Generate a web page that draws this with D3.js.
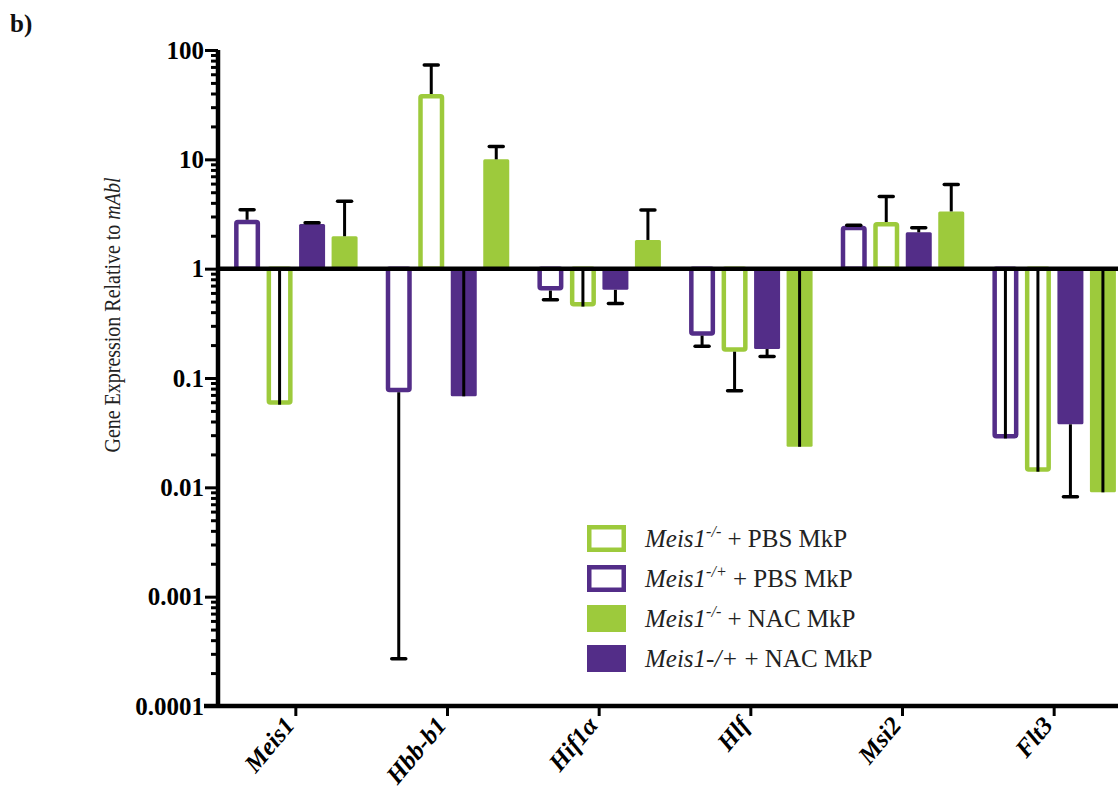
<!DOCTYPE html>
<html>
<head>
<meta charset="utf-8">
<script src="https://cdn.jsdelivr.net/npm/d3@7"></script>
<style>
  body { margin: 0; background: #fff; }
  svg text { font-family: 'Liberation Serif', 'Times New Roman', serif; }
</style>
</head>
<body>
<svg id="chart" width="1118" height="794"></svg>
<script>
var genes = ['Meis1', 'Hbb-b1', 'Hif1α', 'Hlf', 'Msi2', 'Flt3'];
var seriesKeys = ['hetPBS', 'koPBS', 'hetNAC', 'koNAC'];

// bar values (relative to mAbl) and where each error bar ends
var hetPBS = [2.8, 0.074, 0.63, 0.244, 2.47, 0.028];
var hetPBSErr = [3.45, 0.00027, 0.52, 0.195, 2.5, 1];
var koPBS = [0.057, 39.6, 0.45, 0.174, 2.67, 0.0139];
var koPBSErr = [1, 73, 1, 0.0765, 4.58, 1];
var hetNAC = [2.56, 0.068, 0.64, 0.184, 2.15, 0.0377];
var hetNACErr = [2.63, 1, 0.48, 0.157, 2.37, 0.0082];
var koNAC = [1.98, 10, 1.83, 0.0235, 3.34, 0.009];
var koNACErr = [4.13, 13.1, 3.44, 1, 5.9, 1];

var yTickLabels = ['100', '10', '1', '0.1', '0.01', '0.001', '0.0001'];

var green = '#9dca3c';
var purple = '#532d88';

var series = {
  hetPBS: { vals: hetPBS, err: hetPBSErr, color: purple, open: true },
  koPBS: { vals: koPBS, err: koPBSErr, color: green, open: true },
  hetNAC: { vals: hetNAC, err: hetNACErr, color: purple, open: false },
  koNAC: { vals: koNAC, err: koNACErr, color: green, open: false }
};

var legendItems = [
  { key: 'koPBS', sup: '-/-', rest: ' + PBS MkP' },
  { key: 'hetPBS', sup: '-/+', rest: ' + PBS MkP' },
  { key: 'koNAC', sup: '-/-', rest: ' + NAC MkP' },
  { key: 'hetNAC', plain: '-/+', rest: ' + NAC MkP' }
];

var svg = d3.select('#chart');

var y = d3.scaleLog()
  .domain([0.0001, 100])
  .range([706, 50]);

var x0 = d3.scaleBand()
  .domain(genes)
  .range([220, 1130]);

var x1 = d3.scaleBand()
  .domain(seriesKeys)
  .range([-61.75, 61.75])
  .paddingInner(0.2);

var bars = [];
genes.forEach(function (g, i) {
  seriesKeys.forEach(function (k) {
    bars.push({ gene: g, key: k, v: series[k].vals[i], e: series[k].err[i] });
  });
});

function barX(d) {
  return x0(d.gene) + x0.bandwidth() / 2 + x1(d.key);
}

var sw = 4.5;
var barG = svg.append('g').attr('class', 'bars');
barG.selectAll('rect')
  .data(bars)
  .enter()
  .append('rect')
  .attr('x', function (d) { return barX(d) + (series[d.key].open ? sw / 2 : 0); })
  .attr('width', function (d) { return x1.bandwidth() - (series[d.key].open ? sw : 0); })
  .attr('y', function (d) {
    var top = Math.min(y(d.v), y(1));
    return top + (series[d.key].open && d.v > 1 ? sw / 2 : 0);
  })
  .attr('height', function (d) {
    return Math.abs(y(d.v) - y(1)) - (series[d.key].open ? sw / 2 : 0);
  })
  .attr('rx', 1.5)
  .attr('fill', function (d) { return series[d.key].open ? '#fff' : series[d.key].color; })
  .attr('stroke', function (d) { return series[d.key].open ? series[d.key].color : 'none'; })
  .attr('stroke-width', sw);

// error bars
var errG = svg.append('g').attr('class', 'errors');
var errs = errG.selectAll('g')
  .data(bars)
  .enter()
  .append('g');
errs.append('line')
  .attr('x1', function (d) { return barX(d) + x1.bandwidth() / 2; })
  .attr('x2', function (d) { return barX(d) + x1.bandwidth() / 2; })
  .attr('y1', function (d) { return y(d.v); })
  .attr('y2', function (d) { return y(d.e); })
  .attr('stroke', '#000')
  .attr('stroke-width', 3);
errs.append('line')
  .attr('x1', function (d) { return barX(d) + x1.bandwidth() / 2 - 7; })
  .attr('x2', function (d) { return barX(d) + x1.bandwidth() / 2 + 7; })
  .attr('y1', function (d) { return y(d.e); })
  .attr('y2', function (d) { return y(d.e); })
  .attr('stroke', '#000')
  .attr('stroke-width', 3.5)
  .attr('stroke-linecap', 'round');

// baseline at 1
svg.append('line')
  .attr('x1', 218)
  .attr('x2', 1118)
  .attr('y1', y(1))
  .attr('y2', y(1))
  .attr('stroke', '#000')
  .attr('stroke-width', 4.5);

// y axis with log minor ticks
var majors = y.ticks().filter(function (t) {
  return Math.abs(Math.log10(t) - Math.round(Math.log10(t))) < 1e-9;
});
var yAxis = d3.axisLeft(y)
  .tickValues(y.ticks())
  .tickSize(7)
  .tickFormat('');
var yg = svg.append('g')
  .attr('transform', 'translate(218,0)')
  .call(yAxis);
yg.select('.domain')
  .attr('stroke', '#000')
  .attr('stroke-width', 4.5)
  .attr('d', 'M0,' + y(100) + 'V' + y(0.0001));
yg.selectAll('.tick line')
  .attr('stroke', '#000')
  .attr('stroke-width', 3)
  .attr('x2', function (d) { return majors.indexOf(d) >= 0 ? -13 : -7; });

svg.append('g')
  .selectAll('text')
  .data(majors.slice().reverse())
  .enter()
  .append('text')
  .attr('x', 204)
  .attr('y', function (d) { return y(d); })
  .attr('dy', '0.34em')
  .attr('text-anchor', 'end')
  .attr('font-weight', 'bold')
  .attr('font-size', 25)
  .attr('fill', '#000')
  .text(function (d, i) { return yTickLabels[i]; });

// x axis
var xg = svg.append('g')
  .attr('transform', 'translate(0,' + y(0.0001) + ')')
  .call(d3.axisBottom(x0).tickSize(10).tickSizeOuter(0).tickFormat(''));
xg.select('.domain')
  .attr('stroke', '#000')
  .attr('stroke-width', 4.5)
  .attr('d', 'M204,0H1118');
xg.selectAll('.tick line')
  .attr('stroke', '#000')
  .attr('stroke-width', 3);

svg.append('g')
  .selectAll('text')
  .data(genes)
  .enter()
  .append('text')
  .attr('transform', function (d) {
    return 'translate(' + (x0(d) + x0.bandwidth() / 2) + ',' + 726 + ') rotate(-50)';
  })
  .attr('text-anchor', 'end')
  .attr('font-weight', 'bold')
  .attr('font-style', 'italic')
  .attr('font-size', 25)
  .attr('fill', '#000')
  .text(function (d) { return d; });

// y label
var ylab = svg.append('text')
  .attr('transform', 'translate(120,315) rotate(-90)')
  .attr('text-anchor', 'middle')
  .attr('font-size', 24)
  .attr('textLength', 275)
  .attr('lengthAdjust', 'spacingAndGlyphs')
  .attr('fill', '#222');
ylab.append('tspan').text('Gene Expression Relative to ');
ylab.append('tspan').attr('font-style', 'italic').text('mAbl');

// panel letter
svg.append('text')
  .attr('x', 10)
  .attr('y', 32)
  .attr('font-weight', 'bold')
  .attr('font-size', 25)
  .attr('fill', '#111')
  .text('b)');

// legend
var leg = svg.append('g')
  .attr('transform', 'translate(587,525)');
var li = leg.selectAll('g')
  .data(legendItems)
  .enter()
  .append('g')
  .attr('transform', function (d, i) { return 'translate(0,' + i * 40 + ')'; });
li.append('rect')
  .attr('x', function (d) { return series[d.key].open ? 2.25 : 0; })
  .attr('y', function (d) { return series[d.key].open ? 2.25 : 0; })
  .attr('width', function (d) { return series[d.key].open ? 34.5 : 39; })
  .attr('height', function (d) { return series[d.key].open ? 22.5 : 27; })
  .attr('fill', function (d) { return series[d.key].open ? '#fff' : series[d.key].color; })
  .attr('stroke', function (d) { return series[d.key].open ? series[d.key].color : 'none'; })
  .attr('stroke-width', 4.5);
var lt = li.append('text')
  .attr('x', 58)
  .attr('y', 22)
  .attr('font-size', 25)
  .attr('fill', '#222');
lt.append('tspan').attr('font-style', 'italic').text(function (d) { return 'Meis1' + (d.plain || ''); });
lt.filter(function (d) { return d.sup; })
  .append('tspan')
  .attr('font-style', 'italic')
  .attr('font-size', 16)
  .attr('dy', -10)
  .text(function (d) { return d.sup; });
lt.append('tspan')
  .attr('dy', function (d) { return d.sup ? 10 : 0; })
  .text(function (d) { return d.rest; });
</script>
</body>
</html>
